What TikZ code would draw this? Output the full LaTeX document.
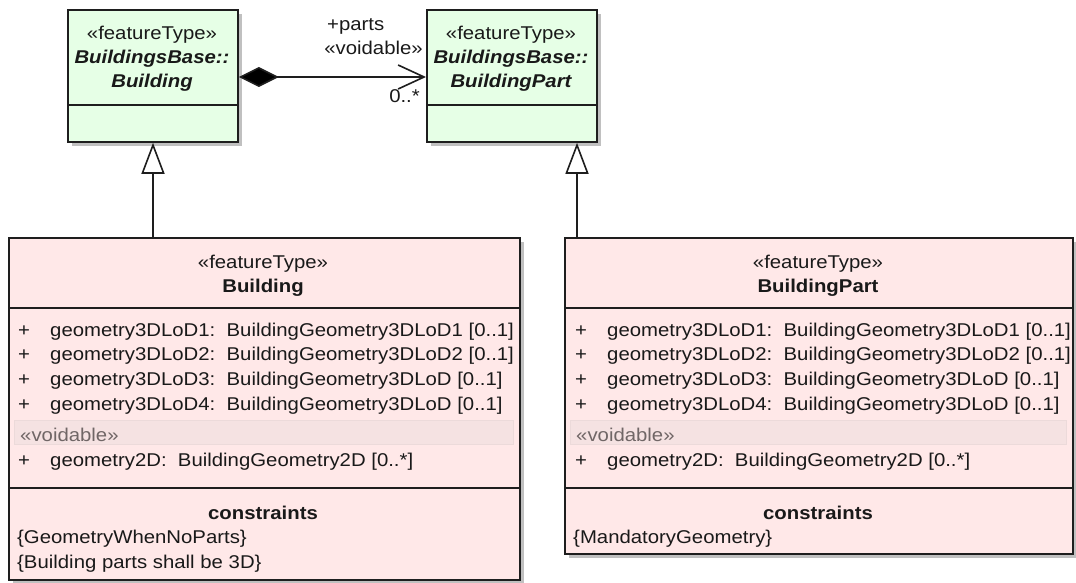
\documentclass[tikz,border=0pt]{standalone}
\usepackage{fontspec}
\setmainfont{Liberation Sans}[FakeStretch=1.1]
\usetikzlibrary{arrows.meta,shadows}
\definecolor{linec}{RGB}{30,30,30}
\definecolor{textc}{RGB}{25,25,25}
\definecolor{greenfill}{RGB}{230,255,230}
\definecolor{pinkfill}{RGB}{255,232,232}
\definecolor{bandfill}{RGB}{245,226,226}
\definecolor{banddraw}{RGB}{236,218,218}
\definecolor{graytext}{RGB}{112,102,102}
\definecolor{shadowc}{RGB}{192,192,192}
\begin{document}
\begin{tikzpicture}[x=1pt,y=-1pt,
  umlbox/.style={rectangle, draw=linec, line width=1.8pt, inner sep=0pt, anchor=north west,
    drop shadow={shadow xshift=4.5pt, shadow yshift=-4.5pt, fill=shadowc, opacity=1}},
  greenbox/.style={umlbox, fill=greenfill},
  pinkbox/.style={umlbox, fill=pinkfill},
  divider/.style={draw=linec, line width=1.6pt},
  band/.style={fill=bandfill, draw=banddraw, line width=0.8pt},
  txt/.style={anchor=base, inner sep=0pt, text=textc, font=\fontsize{18.5}{22}\selectfont},
  ltxt/.style={txt, anchor=base west},
  rtxt/.style={txt, anchor=base east},
  btxt/.style={txt, font=\fontsize{18.5}{22}\selectfont\bfseries},
  bitxt/.style={txt, font=\fontsize{18.5}{22}\selectfont\bfseries\itshape},
  vtxt/.style={ltxt, text=graytext},
  assoc/.style={draw=linec, line width=1.6pt,
    {Diamond[length=40pt,width=20pt,fill=black]}-{Straight Barb[length=26pt,width=24pt]}},
  genline/.style={draw=linec, line width=1.6pt, -{Triangle[length=31pt,width=23pt,fill=white]}}
]
\useasboundingbox (0,0) rectangle (1076,583);

% ---------- boxes ----------
\node[greenbox, minimum width=170pt, minimum height=132pt] (bbb) at (67,9) {};
\node[greenbox, minimum width=170pt, minimum height=132pt] (bbp) at (426,9) {};
\node[pinkbox, minimum width=511pt, minimum height=342pt] (bld) at (8,237) {};
\node[pinkbox, minimum width=508pt, minimum height=316pt] (bpt) at (564,237) {};

% ---------- dividers ----------
\coordinate (dtop) at (0,105);
\coordinate (dh) at (0,308);
\coordinate (dc) at (0,488);
\draw[divider] (bbb.west |- dtop) -- (bbb.east |- dtop);
\draw[divider] (bbp.west |- dtop) -- (bbp.east |- dtop);
\draw[divider] (bld.west |- dh) -- (bld.east |- dh);
\draw[divider] (bld.west |- dc) -- (bld.east |- dc);
\draw[divider] (bpt.west |- dh) -- (bpt.east |- dh);
\draw[divider] (bpt.west |- dc) -- (bpt.east |- dc);

% ---------- voidable bands ----------
\path[band] (14,420) rectangle (513,444);
\path[band] (570,420) rectangle (1066,444);

% ---------- top-left box text ----------
\node[txt] (bbbs) at (152,40) {«featureType»};
\node[bitxt] (bbbn1) at (152,64) {BuildingsBase::};
\node[bitxt] (bbbn2) at (152,88) {Building};

% ---------- top-right box text ----------
\node[txt] (bbps) at (511,40) {«featureType»};
\node[bitxt] (bbpn1) at (511,64) {BuildingsBase::};
\node[bitxt] (bbpn2) at (511,88) {BuildingPart};

% ---------- Building ----------
\node[txt] (blds) at (263,268) {«featureType»};
\node[btxt] (bldn) at (263,292) {Building};
\node[ltxt] (bla1) at (18,336) {\makebox[32pt][l]{+}geometry3DLoD1:~~BuildingGeometry3DLoD1 [0..1]};
\node[ltxt] (bla2) at (18,360) {\makebox[32pt][l]{+}geometry3DLoD2:~~BuildingGeometry3DLoD2 [0..1]};
\node[ltxt] (bla3) at (18,385) {\makebox[32pt][l]{+}geometry3DLoD3:~~BuildingGeometry3DLoD [0..1]};
\node[ltxt] (bla4) at (18,410) {\makebox[32pt][l]{+}geometry3DLoD4:~~BuildingGeometry3DLoD [0..1]};
\node[vtxt] (blv) at (20,441) {«voidable»};
\node[ltxt] (bla5) at (18,466) {\makebox[32pt][l]{+}geometry2D:~~BuildingGeometry2D [0..*]};
\node[btxt] (blc) at (263,519) {constraints};
\node[ltxt] (blc1) at (17,543) {\{GeometryWhenNoParts\}};
\node[ltxt] (blc2) at (17,568) {\{Building parts shall be 3D\}};

% ---------- BuildingPart ----------
\node[txt] (bpts) at (818,268) {«featureType»};
\node[btxt] (bptn) at (818,292) {BuildingPart};
\node[ltxt] (bpa1) at (575,336) {\makebox[32pt][l]{+}geometry3DLoD1:~~BuildingGeometry3DLoD1 [0..1]};
\node[ltxt] (bpa2) at (575,360) {\makebox[32pt][l]{+}geometry3DLoD2:~~BuildingGeometry3DLoD2 [0..1]};
\node[ltxt] (bpa3) at (575,385) {\makebox[32pt][l]{+}geometry3DLoD3:~~BuildingGeometry3DLoD [0..1]};
\node[ltxt] (bpa4) at (575,410) {\makebox[32pt][l]{+}geometry3DLoD4:~~BuildingGeometry3DLoD [0..1]};
\node[vtxt] (bpv) at (576,441) {«voidable»};
\node[ltxt] (bpa5) at (575,466) {\makebox[32pt][l]{+}geometry2D:~~BuildingGeometry2D [0..*]};
\node[btxt] (bpc) at (818,519) {constraints};
\node[ltxt] (bpc1) at (573,543) {\{MandatoryGeometry\}};

% ---------- connectors ----------
\coordinate (cy) at (0,77);
\draw[assoc] (bbb.east |- cy) -- (bbp.west |- cy);
\node[ltxt] (lparts) at (327,31) {+parts};
\node[rtxt] (lvoid) at (423,55) {«voidable»};
\node[rtxt] (lmult) at (420,103) {0..*};

\coordinate (g1) at (153,0);
\coordinate (g2) at (577,0);
\draw[genline] (bld.north -| g1) -- (bbb.south -| g1);
\draw[genline] (bpt.north -| g2) -- (bbp.south -| g2);
\end{tikzpicture}
\end{document}
